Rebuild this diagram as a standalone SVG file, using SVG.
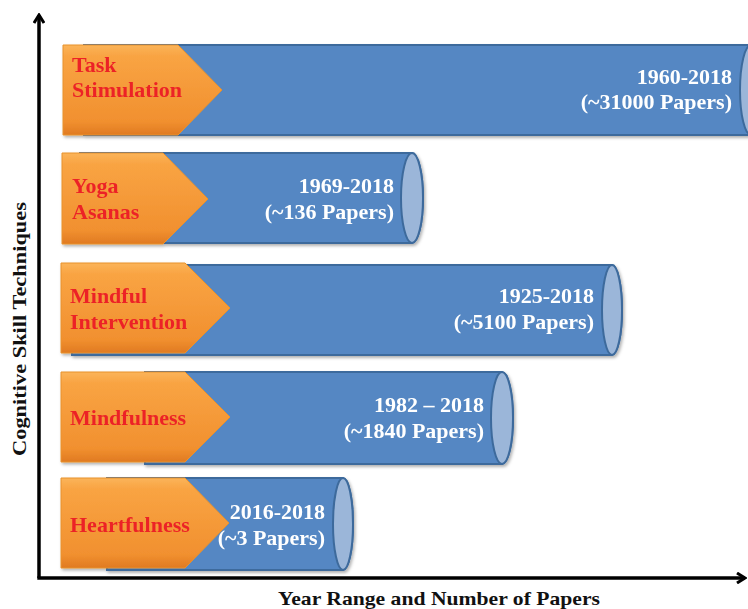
<svg xmlns="http://www.w3.org/2000/svg" width="748" height="609" viewBox="0 0 748 609">
<defs>
<linearGradient id="og" x1="0" y1="0" x2="0" y2="1">
<stop offset="0" stop-color="#fbb45a"/>
<stop offset="0.12" stop-color="#f9a443"/>
<stop offset="0.85" stop-color="#f1902f"/>
<stop offset="1" stop-color="#e07a22"/>
</linearGradient>
<filter id="sh" x="-5%" y="-5%" width="112%" height="115%">
<feDropShadow dx="1.5" dy="2" stdDeviation="1.5" flood-color="#000" flood-opacity="0.3"/>
</filter>
<marker id="ah" viewBox="0 0 12 12" refX="10" refY="6" markerWidth="12" markerHeight="12" markerUnits="userSpaceOnUse" orient="auto">
<path d="M2,1 L10,6 L2,11" fill="none" stroke="#000" stroke-width="3"/>
</marker>
<style>
.body{fill:#5487c3;stroke:#3d6a9c;stroke-width:2}
.cap{fill:#9bb6d9;stroke:#3d6a9c;stroke-width:2}
.arr{fill:url(#og);stroke:#e8922f;stroke-width:1}
.lbl{font-family:"Liberation Serif","Times New Roman",serif;font-weight:bold;font-size:22px;fill:#ec2428}
.val{font-family:"Liberation Serif","Times New Roman",serif;font-weight:bold;font-size:22px;fill:#ffffff;text-anchor:end}
.ax{font-family:"Liberation Serif","Times New Roman",serif;font-weight:bold;font-size:19px;fill:#111}
.axis{stroke:#000;stroke-width:3.5;fill:none}
</style>
</defs>
<rect width="748" height="609" fill="#fff"/>
<g id="connectors">
<path class="axis" d="M39,578 L39,15" marker-end="url(#ah)"/>
<path class="axis" d="M37.3,578 L745,578" marker-end="url(#ah)"/>
</g>
<g id="node-task" filter="url(#sh)">
<path class="body" d="M84,45 L751,45 A11,45 0 0 1 751,135 L84,135 Z"/>
<ellipse class="cap" cx="751" cy="90" rx="11" ry="45"/>
<polygon class="arr" points="63,45 178,45 222,90 178,135 63,135"/>
<text class="lbl" x="72" y="72">Task</text>
<text class="lbl" x="72" y="97">Stimulation</text>
<text class="val" x="732" y="84">1960-2018</text>
<text class="val" x="732" y="109">(~31000 Papers)</text>
</g>
<g id="node-yoga" filter="url(#sh)">
<path class="body" d="M80,153 L412,153 A11,45 0 0 1 412,243 L80,243 Z"/>
<ellipse class="cap" cx="412" cy="198" rx="11" ry="45"/>
<polygon class="arr" points="62,153 163,153 208,199 163,244 62,244"/>
<text class="lbl" x="72" y="193">Yoga</text>
<text class="lbl" x="72" y="219">Asanas</text>
<text class="val" x="394" y="193">1969-2018</text>
<text class="val" x="394" y="219">(~136 Papers)</text>
</g>
<g id="node-mindful-intervention" filter="url(#sh)">
<path class="body" d="M72,265 L612,265 A10,45 0 0 1 612,355 L72,355 Z"/>
<ellipse class="cap" cx="612" cy="310" rx="10" ry="45"/>
<polygon class="arr" points="61,263 185,263 230,308 185,353 61,353"/>
<text class="lbl" x="70" y="303">Mindful</text>
<text class="lbl" x="70" y="329">Intervention</text>
<text class="val" x="594" y="303">1925-2018</text>
<text class="val" x="594" y="329">(~5100 Papers)</text>
</g>
<g id="node-mindfulness" filter="url(#sh)">
<path class="body" d="M145,372 L502,372 A11,46 0 0 1 502,464 L145,464 Z"/>
<ellipse class="cap" cx="502" cy="418" rx="11" ry="46"/>
<polygon class="arr" points="61,372 185,372 230,417 185,462 61,462"/>
<text class="lbl" x="70" y="425">Mindfulness</text>
<text class="val" x="484" y="412">1982 – 2018</text>
<text class="val" x="484" y="438">(~1840 Papers)</text>
</g>
<g id="node-heartfulness" filter="url(#sh)">
<path class="body" d="M107,478 L343,478 A10,46 0 0 1 343,570 L107,570 Z"/>
<ellipse class="cap" cx="343" cy="524" rx="10" ry="46"/>
<polygon class="arr" points="61,478 185,478 229,523 185,568 61,568"/>
<text class="lbl" x="70" y="532">Heartfulness</text>
<text class="val" x="325" y="519">2016-2018</text>
<text class="val" x="325" y="545">(~3 Papers)</text>
</g>
<g id="axis-labels">
<text class="ax" x="278" y="605" textLength="322" lengthAdjust="spacingAndGlyphs">Year Range and Number of Papers</text>
<text class="ax" transform="translate(26,456) rotate(-90)" x="0" y="0" textLength="254" lengthAdjust="spacingAndGlyphs">Cognitive Skill Techniques</text>
</g>
</svg>
